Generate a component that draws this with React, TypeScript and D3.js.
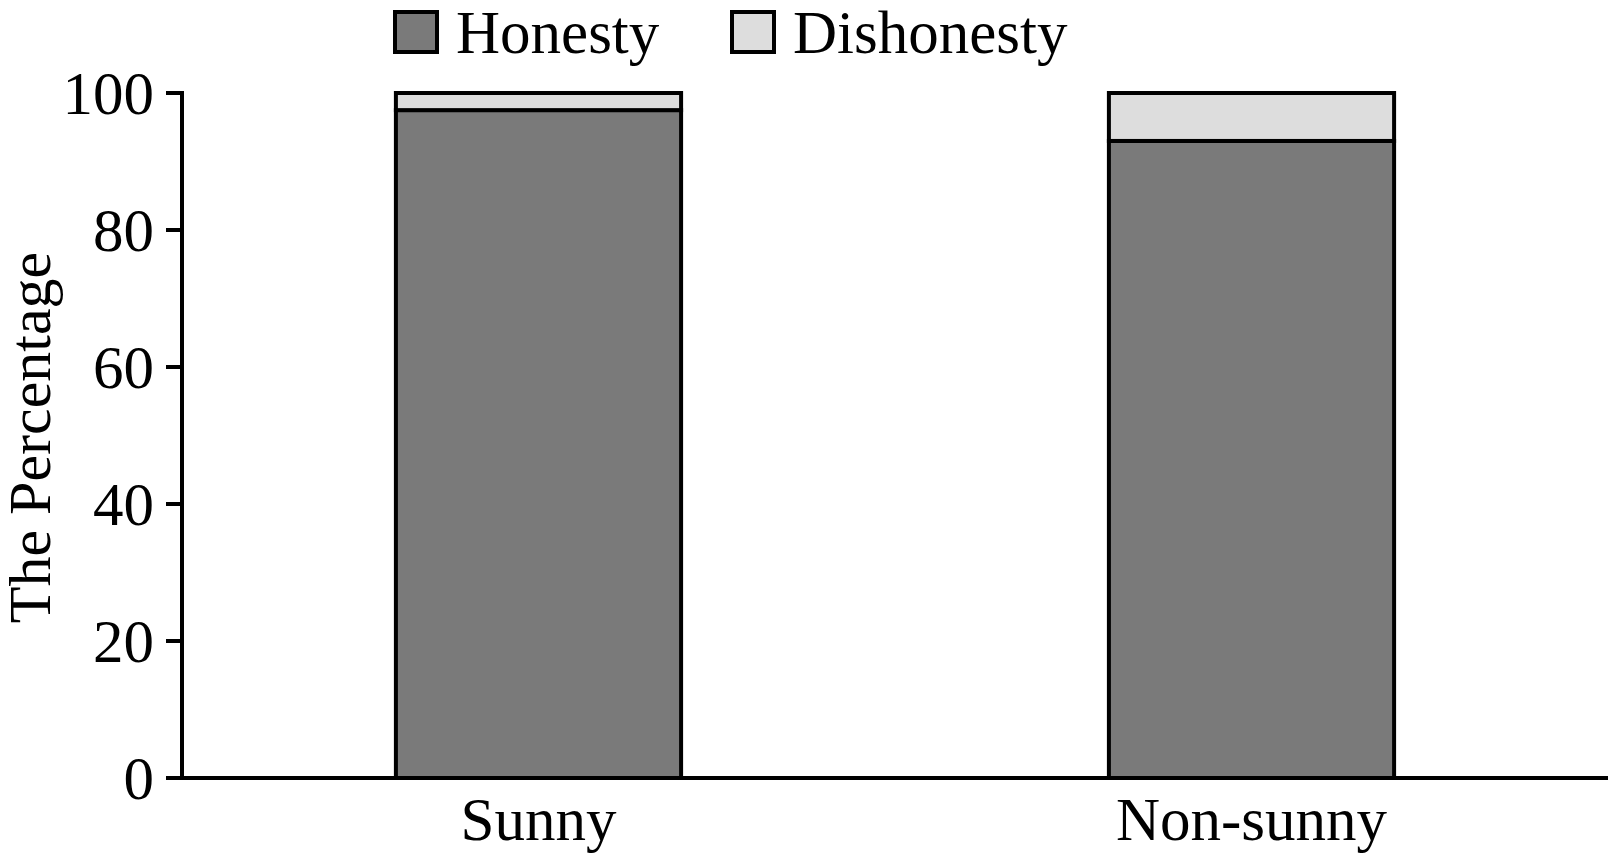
import React from "react";
import * as d3 from "d3";

const categories = ["Sunny", "Non-sunny"];
const honesty = [97.5, 93.0];
const dishonesty = [2.5, 7.0];
const yTicks = [0, 20, 40, 60, 80, 100];
const seriesNames = ["Honesty", "Dishonesty"];
const seriesColors = ["#7a7a7a", "#dddddd"];

const W = 1608;
const H = 858;
const FONT = "'Liberation Serif', 'Times New Roman', serif";

export default function App() {
  const left = 182;
  const top = 93;
  const bottom = 778;
  const x = d3
    .scaleBand<string>()
    .domain(categories)
    .range([left, W])
    .paddingInner(0.6)
    .paddingOuter(0.3);
  const y = d3.scaleLinear().domain([0, 100]).range([bottom, top]);
  const stacked = categories.map((c, i) => [
    { key: "h", y0: 0, y1: honesty[i], color: seriesColors[0] },
    { key: "d", y0: honesty[i], y1: honesty[i] + dishonesty[i], color: seriesColors[1] },
  ]);
  const sw = 4;
  return (
    <svg
      width={W}
      height={H}
      style={{ position: "absolute", left: 0, top: 0, background: "#fff" }}
      fontFamily={FONT}
    >
      {/* bars */}
      {categories.map((c, i) =>
        stacked[i].map((s) => (
          <rect
            key={c + s.key}
            x={x(c)!}
            y={y(s.y1)}
            width={x.bandwidth()}
            height={y(s.y0) - y(s.y1)}
            fill={s.color}
            stroke="#000"
            strokeWidth={sw}
          />
        ))
      )}
      {/* y axis */}
      <line x1={left} x2={left} y1={top - sw / 2} y2={bottom} stroke="#000" strokeWidth={sw} />
      {yTicks.map((t) => (
        <g key={t}>
          <line x1={left - 16} x2={left} y1={y(t)} y2={y(t)} stroke="#000" strokeWidth={sw} />
          <text
            x={left - 28}
            y={y(t)}
            textAnchor="end"
            dominantBaseline="central"
            fontSize={61}
          >
            {t}
          </text>
        </g>
      ))}
      {/* x axis */}
      <line x1={left - 16} x2={W} y1={bottom} y2={bottom} stroke="#000" strokeWidth={sw} />
      {categories.map((c) => (
        <text
          key={c}
          x={x(c)! + x.bandwidth() / 2}
          y={840}
          textAnchor="middle"
          fontSize={61}
        >
          {c}
        </text>
      ))}
      {/* y label */}
      <text
        transform={`translate(50, ${(top + bottom) / 2 + 2}) rotate(-90)`}
        textAnchor="middle"
        fontSize={60}
      >
        The Percentage
      </text>
      {/* legend */}
      {seriesNames.map((n, i) => {
        const lx = [395, 732][i];
        return (
          <g key={n}>
            <rect x={lx} y={12} width={42} height={40} fill={seriesColors[i]} stroke="#000" strokeWidth={sw} />
            <text x={lx + 61} y={53} fontSize={61}>
              {n}
            </text>
          </g>
        );
      })}
    </svg>
  );
}
